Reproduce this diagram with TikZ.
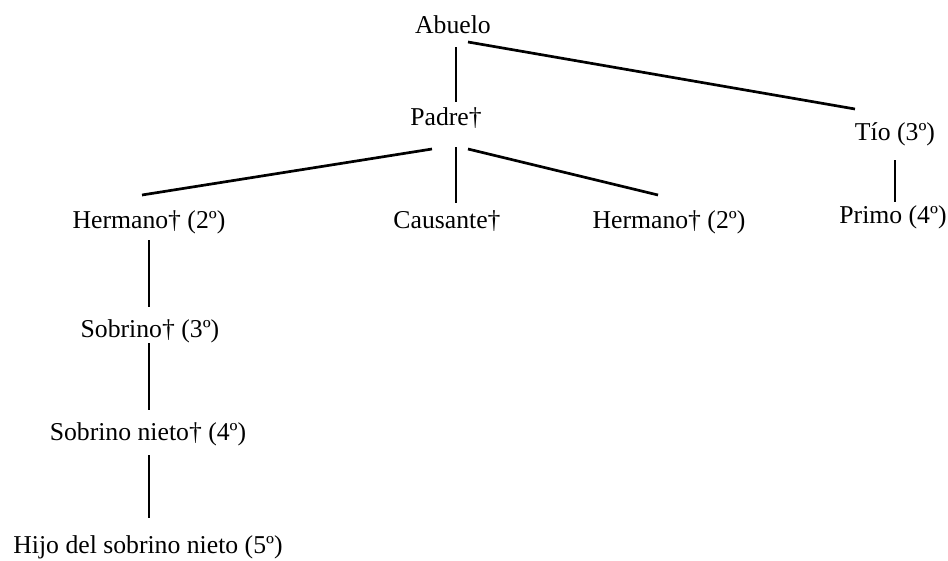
\documentclass[tikz,border=0pt]{standalone}
\usepackage{fontspec}
\setmainfont{Liberation Serif}
\begin{document}
\begin{tikzpicture}[x=1pt,y=-1pt,
  lbl/.style={anchor=base, inner sep=0pt, font=\fontsize{25.7}{30}\selectfont},
  link/.style={line width=2.7pt}]
\useasboundingbox (0,0) rectangle (948,560);
% nodes
\node[lbl] (abuelo)  at (453,33)  {Abuelo};
\node[lbl] (padre)   at (446,125) {Padre†};
\node[lbl] (tio)     at (895,140) {Tío (3º)};
\node[lbl] (hermL)   at (149,228) {Hermano† (2º)};
\node[lbl] (causa)   at (447,228) {Causante†};
\node[lbl] (hermR)   at (669,228) {Hermano† (2º)};
\node[lbl] (primo)   at (893,223) {Primo (4º)};
\node[lbl] (sobrino) at (150,337) {Sobrino† (3º)};
\node[lbl] (snieto)  at (148,440) {Sobrino nieto† (4º)};
\node[lbl] (hijo)    at (148,553) {Hijo del sobrino nieto (5º)};
% connector end points
\coordinate (a1) at (456,47);  \coordinate (p0) at (456,102);
\coordinate (a2) at (468,42);  \coordinate (t0) at (855,109);
\coordinate (p1) at (432,149); \coordinate (hl0) at (142,195);
\coordinate (p2) at (456,147); \coordinate (c0) at (456,203);
\coordinate (p3) at (468,149); \coordinate (hr0) at (658,195);
\coordinate (t1) at (895,160); \coordinate (pr0) at (895,202);
\coordinate (hl1) at (149,240); \coordinate (s0) at (149,307);
\coordinate (s1) at (149,343); \coordinate (sn0) at (149,410);
\coordinate (sn1) at (149,455); \coordinate (h0) at (149,518);
% connectors
\draw[link] (a1) -- (p0);
\draw[link] (a2) -- (t0);
\draw[link] (p1) -- (hl0);
\draw[link] (p2) -- (c0);
\draw[link] (p3) -- (hr0);
\draw[link] (t1) -- (pr0);
\draw[link] (hl1) -- (s0);
\draw[link] (s1) -- (sn0);
\draw[link] (sn1) -- (h0);
\end{tikzpicture}
\end{document}
